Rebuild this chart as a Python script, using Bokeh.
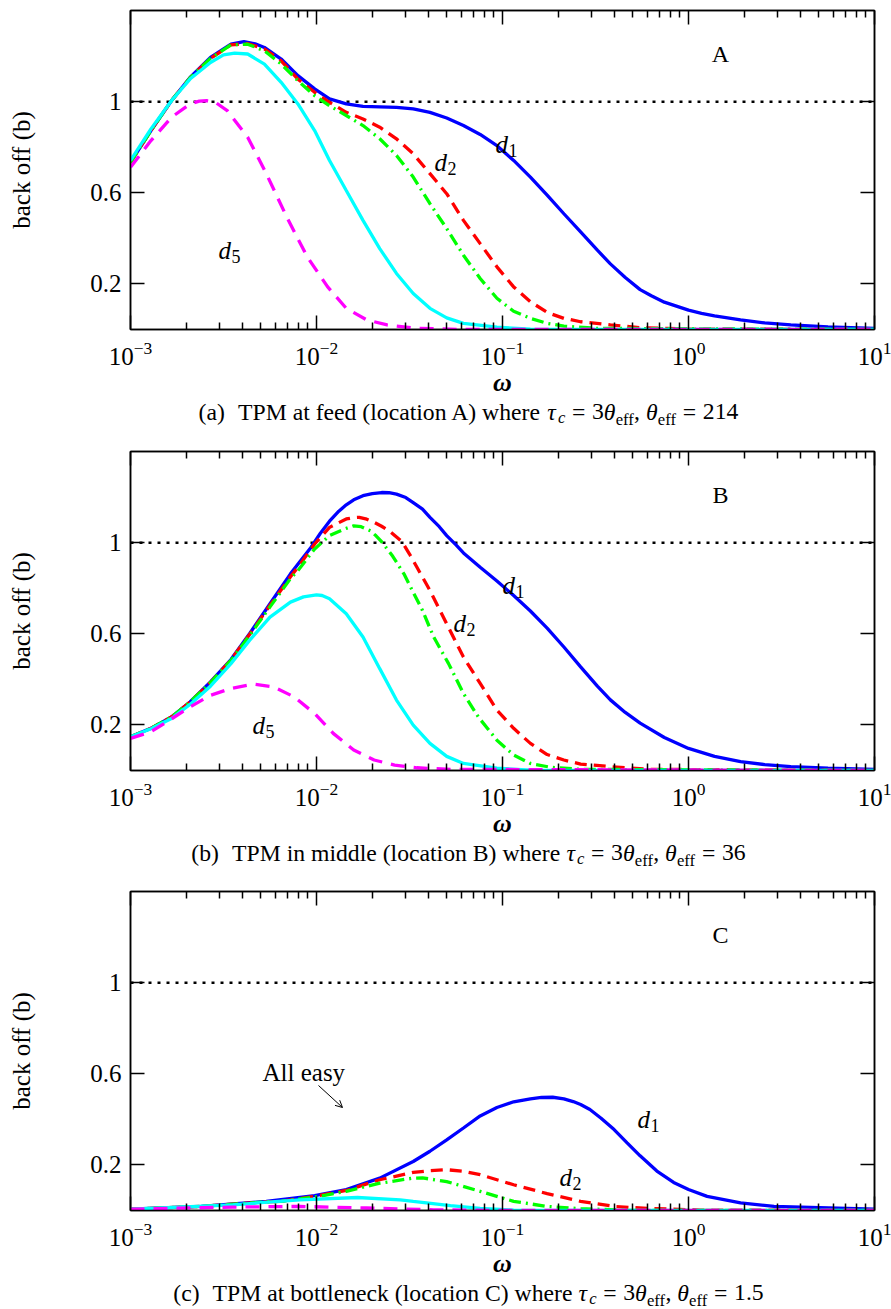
import math
from bokeh.plotting import figure
from bokeh.models import (FixedTicker, LogAxis, LinearAxis, Span, Label, Arrow,
                          OpenHead, CustomJSTickFormatter)
from bokeh.layouts import column
from bokeh.embed import file_html
from bokeh.resources import INLINE

# ---------------------------------------------------------------- data
# x values are log10(omega); y values are back off b
A_d1_lw = [-3.0, -2.89, -2.78, -2.68, -2.57, -2.46, -2.39, -2.33, -2.28, -2.19, -2.10, -2.01, -1.93, -1.84,
           -1.75, -1.66, -1.57, -1.48, -1.39, -1.30, -1.21, -1.12, -1.03, -0.94, -0.85, -0.76, -0.67, -0.58,
           -0.49, -0.42, -0.34, -0.26, -0.20, -0.13, 0.0, 0.07, 0.14, 0.28, 0.41, 0.55, 0.75, 1.0]
A_d1_b = [0.734, 0.873, 1.004, 1.106, 1.194, 1.252, 1.263, 1.254, 1.238, 1.187, 1.114, 1.056, 1.012, 0.990,
          0.979, 0.977, 0.975, 0.968, 0.953, 0.928, 0.895, 0.856, 0.807, 0.742, 0.669, 0.590, 0.508, 0.428,
          0.348, 0.288, 0.228, 0.175, 0.148, 0.120, 0.085, 0.071, 0.060, 0.042, 0.029, 0.020, 0.011, 0.005]
A_d2_lw = [-3.0, -2.89, -2.78, -2.68, -2.57, -2.46, -2.37, -2.28, -2.19, -2.10, -2.01, -1.93, -1.84, -1.75,
           -1.66, -1.57, -1.48, -1.39, -1.30, -1.21, -1.12, -1.03, -0.94, -0.85, -0.76, -0.67, -0.58, -0.42,
           -0.26, 0.0, 1.0]
A_d2_b = [0.734, 0.873, 1.004, 1.104, 1.190, 1.249, 1.255, 1.231, 1.179, 1.099, 1.041, 0.997, 0.953, 0.924,
          0.888, 0.837, 0.771, 0.684, 0.596, 0.479, 0.377, 0.275, 0.187, 0.122, 0.075, 0.049, 0.034, 0.020,
          0.008, 0.002, 0.0]
A_d3_lw = [-3.0, -2.89, -2.78, -2.68, -2.57, -2.46, -2.37, -2.28, -2.19, -2.10, -2.01, -1.93, -1.84, -1.75,
           -1.66, -1.57, -1.48, -1.39, -1.30, -1.21, -1.12, -1.03, -0.94, -0.85, -0.76, -0.67, -0.49, 1.0]
A_d3_b = [0.734, 0.873, 1.004, 1.104, 1.190, 1.249, 1.252, 1.223, 1.165, 1.092, 1.026, 0.982, 0.939, 0.895,
          0.837, 0.764, 0.669, 0.552, 0.443, 0.326, 0.224, 0.137, 0.080, 0.049, 0.027, 0.015, 0.005, 0.0]
A_d4_lw = [-3.0, -2.89, -2.78, -2.68, -2.57, -2.50, -2.44, -2.37, -2.28, -2.19, -2.10, -2.01, -1.93, -1.84,
           -1.75, -1.66, -1.57, -1.48, -1.39, -1.30, -1.21, -1.03, -0.85, 1.0]
A_d4_b = [0.742, 0.880, 1.004, 1.099, 1.172, 1.205, 1.213, 1.209, 1.165, 1.085, 0.990, 0.873, 0.742, 0.610,
          0.479, 0.355, 0.246, 0.158, 0.093, 0.051, 0.027, 0.010, 0.002, 0.0]
A_d5_lw = [-3.0, -2.89, -2.78, -2.68, -2.63, -2.59, -2.54, -2.48, -2.37, -2.27, -2.16, -2.05, -1.94, -1.84,
           -1.73, -1.62, -1.46, -1.20, 1.0]
A_d5_b = [0.712, 0.829, 0.931, 0.990, 1.002, 1.004, 0.995, 0.961, 0.844, 0.684, 0.494, 0.319, 0.187, 0.093,
          0.042, 0.020, 0.005, 0.0, 0.0]

B_d1_lw = [-3.0, -2.89, -2.78, -2.68, -2.57, -2.46, -2.36, -2.25, -2.14, -2.03, -1.98, -1.93, -1.88, -1.84,
           -1.80, -1.75, -1.70, -1.65, -1.61, -1.57, -1.52, -1.48, -1.43, -1.39, -1.34, -1.30, -1.25, -1.21,
           -1.12, -1.03, -0.94, -0.85, -0.76, -0.67, -0.58, -0.49, -0.42, -0.34, -0.26, -0.13, 0.0, 0.14,
           0.28, 0.41, 0.55, 0.75, 1.0]
B_d1_b = [0.148, 0.185, 0.235, 0.301, 0.389, 0.487, 0.600, 0.732, 0.863, 0.979, 1.040, 1.094, 1.138, 1.166,
          1.188, 1.206, 1.215, 1.220, 1.219, 1.213, 1.198, 1.176, 1.147, 1.111, 1.070, 1.031, 0.990, 0.955,
          0.892, 0.832, 0.768, 0.700, 0.625, 0.542, 0.455, 0.370, 0.310, 0.255, 0.208, 0.145, 0.097, 0.062,
          0.039, 0.026, 0.017, 0.010, 0.005]
B_d2_lw = [-3.0, -2.89, -2.78, -2.68, -2.57, -2.46, -2.36, -2.25, -2.14, -2.10, -2.01, -1.93, -1.84, -1.80,
           -1.77, -1.73, -1.69, -1.65, -1.61, -1.54, -1.50, -1.46, -1.39, -1.30, -1.21, -1.12, -1.03, -0.94,
           -0.85, -0.76, -0.67, -0.58, -0.42, -0.20, 1.0]
B_d2_b = [0.148, 0.185, 0.235, 0.300, 0.387, 0.485, 0.597, 0.725, 0.850, 0.892, 0.994, 1.067, 1.104, 1.110,
          1.111, 1.103, 1.089, 1.072, 1.052, 1.004, 0.950, 0.892, 0.790, 0.644, 0.498, 0.382, 0.265, 0.185,
          0.119, 0.070, 0.046, 0.028, 0.017, 0.005, 0.0]
B_d3_lw = [-3.0, -2.89, -2.78, -2.68, -2.57, -2.46, -2.36, -2.25, -2.14, -2.10, -2.01, -1.93, -1.85, -1.80,
           -1.76, -1.71, -1.68, -1.65, -1.59, -1.53, -1.43, -1.37, -1.29, -1.21, -1.13, -1.03, -0.94, -0.85,
           -0.74, -0.58, 1.0]
B_d3_b = [0.148, 0.185, 0.235, 0.300, 0.386, 0.483, 0.592, 0.718, 0.842, 0.877, 0.972, 1.031, 1.060, 1.074,
          1.070, 1.052, 1.030, 1.004, 0.940, 0.863, 0.702, 0.586, 0.469, 0.338, 0.235, 0.133, 0.068, 0.031,
          0.014, 0.005, 0.0]
B_d4_lw = [-3.0, -2.89, -2.78, -2.68, -2.57, -2.46, -2.36, -2.25, -2.14, -2.07, -2.0, -1.97, -1.93, -1.84,
           -1.75, -1.66, -1.57, -1.48, -1.39, -1.30, -1.21, -1.03, -0.85, 1.0]
B_d4_b = [0.148, 0.183, 0.228, 0.290, 0.370, 0.469, 0.571, 0.673, 0.739, 0.762, 0.771, 0.768, 0.754, 0.688,
          0.586, 0.447, 0.309, 0.199, 0.119, 0.062, 0.031, 0.010, 0.002, 0.0]
B_d5_lw = [-3.0, -2.89, -2.79, -2.68, -2.57, -2.46, -2.34, -2.23, -2.12, -2.01, -1.91, -1.80, -1.69, -1.58,
           -1.46, -1.28, 1.0]
B_d5_b = [0.141, 0.170, 0.221, 0.279, 0.330, 0.360, 0.379, 0.367, 0.323, 0.250, 0.163, 0.090, 0.046, 0.024,
          0.012, 0.005, 0.0]

C_d1_lw = [-3.0, -2.62, -2.27, -2.01, -1.84, -1.66, -1.48, -1.39, -1.30, -1.21, -1.12, -1.03, -0.94, -0.85,
           -0.79, -0.73, -0.67, -0.62, -0.58, -0.53, -0.47, -0.40, -0.33, -0.26, -0.17, -0.08, 0.0, 0.10,
           0.28, 0.46, 1.0]
C_d1_b = [0.006, 0.018, 0.040, 0.065, 0.092, 0.142, 0.215, 0.260, 0.310, 0.362, 0.415, 0.452, 0.477, 0.490,
          0.496, 0.497, 0.490, 0.478, 0.465, 0.443, 0.405, 0.355, 0.297, 0.240, 0.173, 0.123, 0.092, 0.062,
          0.033, 0.018, 0.006]
C_d2_lw = [-3.0, -2.62, -2.27, -2.19, -2.01, -1.84, -1.66, -1.48, -1.39, -1.30, -1.21, -1.12, -0.94, -0.76,
           -0.58, -0.40, -0.22, 0.07, 1.0]
C_d2_b = [0.006, 0.018, 0.038, 0.040, 0.062, 0.088, 0.135, 0.167, 0.175, 0.179, 0.172, 0.157, 0.113, 0.074,
          0.040, 0.018, 0.009, 0.002, 0.0]
C_d3_lw = [-3.0, -2.62, -2.27, -2.19, -2.01, -1.84, -1.66, -1.48, -1.43, -1.30, -1.12, -0.94, -0.76, -0.58,
           -0.30, 1.0]
C_d3_b = [0.006, 0.018, 0.038, 0.040, 0.059, 0.084, 0.120, 0.142, 0.143, 0.127, 0.084, 0.040, 0.018, 0.008,
          0.0, 0.0]
C_d4_lw = [-3.0, -2.45, -2.09, -1.78, -1.55, -1.48, -1.28, -1.12, -0.94, 1.0]
C_d4_b = [0.006, 0.025, 0.047, 0.057, 0.047, 0.040, 0.021, 0.009, 0.002, 0.0]
C_d5_lw = [-3.0, -2.45, -2.09, -1.73, -1.37, -1.0, 1.0]
C_d5_b = [0.006, 0.015, 0.018, 0.011, 0.003, 0.0, 0.0]

Y_TICKS = [0.2, 0.6, 1.0]
X_MAJOR = [1e-3, 1e-2, 1e-1, 1e0, 1e1]
REFERENCE_B = 1.0

PANEL_LETTERS = ["A", "B", "C"]
CAPTION_TAGS = ["a", "b", "c"]
CAPTION_PLACES = ["at feed (location A)", "in middle (location B)", "at bottleneck (location C)"]
THETA_EFF = ["214", "36", "1.5"]

# ---------------------------------------------------------------- style
SERIES = ["d1", "d2", "d3", "d4", "d5"]
STYLE = {
    "d1": dict(line_color="#0000ff", line_width=3.3),
    "d2": dict(line_color="#ff0000", line_width=3.3, line_dash="12 7"),
    "d3": dict(line_color="#00ff00", line_width=3.3, line_dash="12 5 2 5"),
    "d4": dict(line_color="#00ffff", line_width=3.3),
    "d5": dict(line_color="#ff00ff", line_width=3.3, line_dash="14 9"),
}
FONT = "Liberation Serif"
BASE_FIX = 0.34      # em offset correcting the rendered text baseline

ROMAN = {' ': 250, '(': 333, ')': 333, 'a': 444, 'b': 500, 'c': 444, 'd': 500, 'e': 444, 'f': 333,
         'h': 500, 'i': 278, 'k': 500, 'l': 278, 'm': 778, 'n': 500, 'o': 500, 'r': 333, 's': 389,
         't': 278, 'w': 722, 'y': 500, 'A': 722, 'B': 667, 'C': 667, 'M': 889, 'P': 556, 'T': 611,
         '=': 564, ',': 250, '.': 250}
ITALIC = {'b': 500, 'c': 444, 'd': 500, 'τ': 450, 'θ': 500}

FRAME_W, FRAME_H = 744, 319
LEFT, RIGHT, TOP, BOTTOM = 130, 17, 10, 70
PLOT_H = TOP + FRAME_H + BOTTOM
PANEL_H = [441, 440, 428]


def tw(s, style, size):
    table = ITALIC if style == "italic" else ROMAN
    return sum(table.get(ch, 500) for ch in s) * size / 1000.0


def lab(p, x, y, text, size, style="normal", align="left", units="screen"):
    y = y + BASE_FIX * size
    p.add_layout(Label(x=round(x, 1), y=round(y, 1), x_units=units, y_units=units, text=text,
                       text_font=FONT, text_font_size=f"{size:.1f}px", text_font_style=style,
                       text_align=align, text_baseline="alphabetic",
                       text_color="black"))


def dlabel(p, x, y, digit):
    lab(p, x, y, "d", 25, "italic")
    lab(p, x + 13, y - 4, digit, 18)


def caption_strip(h):
    # same side borders as the plots, so its frame lines up with theirs; data x == page x
    f = figure(frame_width=FRAME_W, frame_height=h, x_range=(LEFT, LEFT + FRAME_W), y_range=(0, h),
               title=None, min_border_left=LEFT, min_border_right=RIGHT, min_border_top=0,
               min_border_bottom=0, x_axis_location=None, y_axis_location=None,
               output_backend="svg", toolbar_location=None,
               background_fill_color="white", border_fill_color="white")
    f.grid.visible = False
    f.outline_line_color = None
    return f


def caption(p, tag, place, theta, center_x, base_y):
    F = 23.7
    segs = [("(" + tag + ")", "normal", 1.0, 0.0, 0.0),
            ("TPM " + place + " where", "normal", 1.0, 0.0, 0.55),
            ("τ", "italic", 1.0, 0.0, 0.25),
            ("c", "italic", 0.7, -0.15, 0.0),
            ("=", "normal", 1.0, 0.0, 0.28),
            ("3", "normal", 1.0, 0.0, 0.28),
            ("θ", "italic", 1.0, 0.0, 0.0),
            ("eff", "normal", 0.7, -0.2, 0.0),
            (",", "normal", 1.0, 0.0, 0.0),
            ("θ", "italic", 1.0, 0.0, 0.25),
            ("eff", "normal", 0.7, -0.2, 0.0),
            ("=", "normal", 1.0, 0.0, 0.28),
            (theta, "normal", 1.0, 0.0, 0.28)]
    total = sum(g * F + tw(t, s, F * k) for t, s, k, d, g in segs)
    x = center_x - total / 2.0
    for t, s, k, d, g in segs:
        x += g * F
        lab(p, x, base_y + d * F, t, F * k, s, units="data")
        x += tw(t, s, F * k)


def make_panel(idx, data):
    p = figure(x_axis_type="log", x_range=(1e-3, 1e1), y_range=(0, 1.4), title=None,
               frame_width=FRAME_W, frame_height=FRAME_H,
               min_border_left=LEFT, min_border_right=RIGHT, min_border_top=TOP, min_border_bottom=BOTTOM,
               output_backend="svg", toolbar_location=None,
               background_fill_color="white", border_fill_color="white")
    p.grid.visible = False
    p.outline_line_color = "black"
    p.outline_line_width = 1.5

    minor = [m * 10.0 ** e for e in range(-3, 1) for m in range(2, 10)]
    xt = FixedTicker(ticks=X_MAJOR, minor_ticks=minor)
    yt = FixedTicker(ticks=Y_TICKS, minor_ticks=[])

    xa = p.below[0]
    xa.ticker = xt
    ya = p.left[0]
    ya.ticker = yt
    ya.formatter = CustomJSTickFormatter(code="return tick.toString()")
    top = LogAxis(ticker=xt)
    right = LinearAxis(ticker=yt)
    top.formatter = CustomJSTickFormatter(code="return ''")
    right.formatter = CustomJSTickFormatter(code="return ''")
    p.add_layout(top, "above")
    p.add_layout(right, "right")
    for ax in (xa, ya, top, right):
        ax.major_tick_in = 14
        ax.major_tick_out = 0
        ax.minor_tick_in = 7
        ax.minor_tick_out = 0
        ax.axis_line_width = 1.5
        ax.major_tick_line_width = 1.5
        ax.minor_tick_line_width = 1.5
        ax.major_label_text_font = FONT
        ax.major_label_text_font_size = "25px"
        ax.major_label_text_color = "black"
    xa.major_label_standoff = 12
    ya.major_label_standoff = 9
    xa.axis_label = "ω"
    xa.axis_label_text_font = FONT
    xa.axis_label_text_font_size = "26px"
    xa.axis_label_text_font_style = "bold italic"
    xa.axis_label_text_color = "black"
    xa.axis_label_standoff = 0
    ya.axis_label = "back off (b)"
    ya.axis_label_text_font = FONT
    ya.axis_label_text_font_size = "25px"
    ya.axis_label_text_font_style = "normal"
    ya.axis_label_text_color = "black"
    ya.axis_label_standoff = 52
    for ax in (top, right):
        ax.major_label_text_font_size = "4px"
        ax.major_label_standoff = 0

    p.add_layout(Span(location=REFERENCE_B, dimension="width", line_color="black",
                      line_width=2.5, line_dash="3 6", level="underlay"))

    for key in SERIES:
        lw, b = data[key]
        p.line([10.0 ** v for v in lw], b, **STYLE[key])

    lab(p, 590, 267, PANEL_LETTERS[idx], 24, align="center")

    # caption strip
    ch = PANEL_H[idx] - PLOT_H
    cp = caption_strip(ch)
    caption(cp, CAPTION_TAGS[idx], CAPTION_PLACES[idx], THETA_EFF[idx], 468, ch - 20.5)
    return p, cp


pA, cA = make_panel(0, {"d1": (A_d1_lw, A_d1_b), "d2": (A_d2_lw, A_d2_b), "d3": (A_d3_lw, A_d3_b),
                        "d4": (A_d4_lw, A_d4_b), "d5": (A_d5_lw, A_d5_b)})
dlabel(pA, 365, 177, "1")
dlabel(pA, 304, 159, "2")
dlabel(pA, 88, 71, "5")

pB, cB = make_panel(1, {"d1": (B_d1_lw, B_d1_b), "d2": (B_d2_lw, B_d2_b), "d3": (B_d3_lw, B_d3_b),
                        "d4": (B_d4_lw, B_d4_b), "d5": (B_d5_lw, B_d5_b)})
dlabel(pB, 372, 177, "1")
dlabel(pB, 323, 139, "2")
dlabel(pB, 122, 37, "5")

pC, cC = make_panel(2, {"d1": (C_d1_lw, C_d1_b), "d2": (C_d2_lw, C_d2_b), "d3": (C_d3_lw, C_d3_b),
                        "d4": (C_d4_lw, C_d4_b), "d5": (C_d5_lw, C_d5_b)})
dlabel(pC, 507, 83, "1")
dlabel(pC, 429, 25, "2")
lab(pC, 132, 130, "All easy", 25)
pC.add_layout(Arrow(x_start=188, y_start=125, x_end=212, y_end=103,
                    start_units="screen", end_units="screen", line_width=1, line_color="black",
                    end=OpenHead(size=7, line_width=1, line_color="black")))

layout = column(pA, cA, pB, cB, pC, cC, spacing=0)
open("out.html", "w").write(file_html(layout, INLINE))
